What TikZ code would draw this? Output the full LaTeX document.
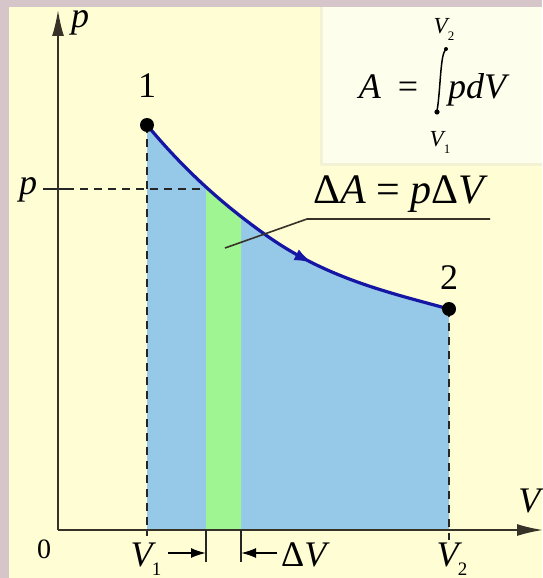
\documentclass[tikz,border=0pt]{standalone}
\usepackage{fontspec}
\setmainfont{Liberation Serif}
\usetikzlibrary{arrows.meta,decorations.markings}
\definecolor{framecol}{RGB}{214,198,202}
\definecolor{bgyellow}{RGB}{254,253,212}
\definecolor{boxcol}{RGB}{254,254,236}
\definecolor{shadowcol}{RGB}{244,242,212}
\definecolor{areablue}{RGB}{150,200,232}
\definecolor{stripgreen}{RGB}{158,245,145}
\definecolor{curvecol}{RGB}{22,22,165}
\definecolor{axiscol}{RGB}{55,50,40}
\begin{document}
\begin{tikzpicture}[x=1pt,y=-1pt,
  axisline/.style={draw=axiscol,line width=1.8pt,-{Latex[length=26pt,width=12pt]}},
  guide/.style={draw=black!85,line width=1.4pt,dash pattern=on 8pt off 6pt},
  tickline/.style={draw=black!85,line width=1.4pt},
  dimarrow/.style={draw=black,line width=1.8pt,-{Latex[length=15pt,width=10pt]}},
  leader/.style={draw=axiscol,line width=1.6pt},
  lbl/.style={font=\fontsize{36}{38}\selectfont,inner sep=0pt},
  biglbl/.style={font=\fontsize{42}{44}\selectfont,inner sep=0pt},
  smalllbl/.style={font=\fontsize{28}{30}\selectfont,inner sep=0pt},
  limlbl/.style={font=\fontsize{23}{24}\selectfont,inner sep=0pt},
  dot/.style={circle,fill=black,inner sep=0pt,minimum size=14pt}]
\useasboundingbox (0,0) rectangle (542,578);
% frame and background
\fill[framecol] (0,0) rectangle (542,578);
\fill[bgyellow] (9,7) rectangle (542,578);
% formula box
\fill[shadowcol] (320,7) rectangle (542,166);
\fill[boxcol] (323,7) rectangle (542,163);

% key coordinates
\coordinate (O) at (58,530);
\coordinate (Ptop) at (58,10);
\coordinate (Vend) at (543,530);
\coordinate (P1) at (147,125);
\coordinate (M) at (263,233);
\coordinate (P2) at (449,309);
\coordinate (A1) at (147,530);
\coordinate (A2) at (449,530);
\coordinate (A1b) at (147,536);
\coordinate (A2b) at (449,540);

% blue area under curve
\fill[areablue] (A1) -- (P1) .. controls (186,172) and (224,205) .. (M)
  .. controls (325,278) and (387,292) .. (P2) -- (A2) -- cycle;
% green strip
\begin{scope}
  \clip (206,0) rectangle (241,578);
  \fill[stripgreen] (A1) -- (P1) .. controls (186,172) and (224,205) .. (M)
    .. controls (325,278) and (387,292) .. (P2) -- (A2) -- cycle;
\end{scope}

% p level
\coordinate (Pt1) at (43,189);
\coordinate (Pt2) at (66,189);
\coordinate (Pc) at (206,189);
\draw[tickline] (Pt1) -- (Pt2);
\draw[guide] (Pt2) -- (Pc);
% dashed verticals
\draw[guide] (P1) -- (A1b);
\draw[guide] (P2) -- (A2b);

% axes
\draw[axisline] (O) -- (Ptop);
\draw[axisline] (O) -- (Vend);

% strip ticks and arrows
\coordinate (S1a) at (206,530);
\coordinate (S1b) at (206,562);
\coordinate (S2a) at (241,530);
\coordinate (S2b) at (241,562);
\draw[tickline] (S1a) -- (S1b);
\draw[tickline] (S2a) -- (S2b);
\coordinate (R1) at (168,553);
\coordinate (R2) at (206,553);
\coordinate (L1) at (277,553);
\coordinate (L2) at (241,553);
\draw[dimarrow] (R1) -- (R2);
\draw[dimarrow] (L1) -- (L2);

% curve
\draw[draw=curvecol,line width=3.2pt,
  postaction={decorate,decoration={markings,
    mark=at position 0.6 with {\arrow[curvecol]{Latex[length=18pt,width=12pt]}}}}]
  (P1) .. controls (186,172) and (224,205) .. (M)
  .. controls (325,278) and (387,292) .. (P2);
\node[dot] (D1) at (P1) {};
\node[dot] (D2) at (P2) {};

% leader to Delta A
\coordinate (Ld1) at (225,248);
\coordinate (Ld2) at (307,219);
\coordinate (Ld3) at (490,219);
\draw[leader] (Ld1) -- (Ld2) -- (Ld3);
\node[biglbl,anchor=base west] (dA) at (313,203) {Δ\textit{A} = \textit{p}Δ\textit{V}};

% labels
\node[lbl,anchor=base] (n1) at (147,97) {1};
\node[lbl,anchor=base] (n2) at (449,289) {2};
\node[lbl,anchor=base] (pax) at (80,28) {\textit{p}};
\node[lbl,anchor=base] (plev) at (28,194) {\textit{p}};
\node[smalllbl] (zero) at (44,549) {0};
\node[lbl,anchor=base] (Vax) at (531,512) {\textit{V}};
\node[lbl,anchor=base] (V1) at (146,566) {\textit{V}\kern-4pt\raisebox{-9pt}{\fontsize{19}{19}\selectfont 1}};
\node[lbl,anchor=base west] (dV) at (281,566) {Δ\textit{V}};
\node[lbl,anchor=base] (V2) at (452,566) {\textit{V}\kern-4pt\raisebox{-9pt}{\fontsize{19}{19}\selectfont 2}};

% formula A = int p dV
\node[lbl,anchor=base] (Asym) at (370,98) {\textit{A}};
\node[lbl,anchor=base] (eqsym) at (408,98) {=};
\node[lbl,anchor=base west] (pdv) at (448,98) {\textit{pdV}};
\draw[line width=1.5pt] (437,111) .. controls (439,100) and (440,80) .. (441,70)
  .. controls (442,60) and (443,52) .. (446,49);
\fill (437,112) circle (2.6pt);
\fill (446,49) circle (2pt);
\node[limlbl,anchor=base] (lim2) at (444,34) {\textit{V}\kern-2pt\raisebox{-7pt}{\fontsize{13}{13}\selectfont 2}};
\node[limlbl,anchor=base] (lim1) at (440,146) {\textit{V}\kern-2pt\raisebox{-7pt}{\fontsize{13}{13}\selectfont 1}};
\end{tikzpicture}
\end{document}
